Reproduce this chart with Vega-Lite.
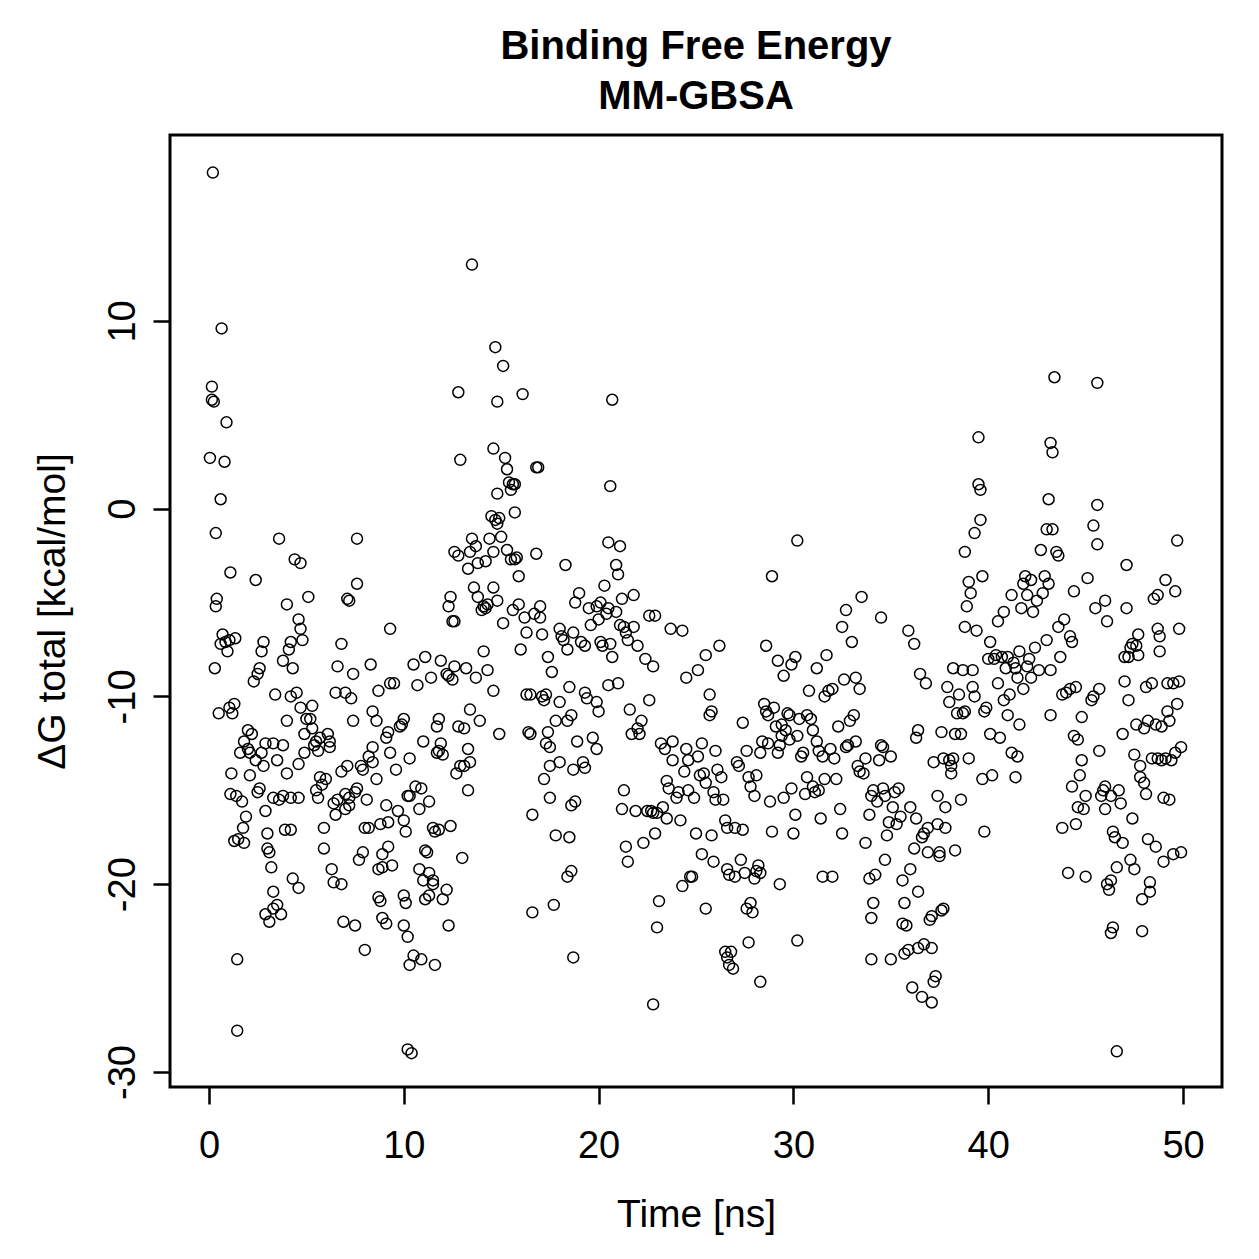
{
"$schema": "https://vega.github.io/schema/vega-lite/v6.json",
"width": 1052,
"height": 952,
"autosize": {"type": "none"},
"padding": {"left": 170, "top": 135, "right": 37, "bottom": 172},
"background": "white",
"title": {"text": ["Binding Free Energy", "MM-GBSA"], "fontSize": 40, "font": "Liberation Sans", "fontWeight": "bold", "color": "black", "anchor": "middle", "offset": 18, "lineHeight": 50},
"config": {
  "view": {"stroke": "black", "strokeWidth": 3},
  "axis": {"domain": false, "grid": false, "ticks": true, "tickColor": "black", "tickWidth": 2.5, "tickSize": 17, "labelFont": "Liberation Sans", "labelFontSize": 38, "labelColor": "black", "titleFont": "Liberation Sans", "titleFontSize": 39, "titleFontWeight": "normal", "titleColor": "black"}
},
"data": {"values": [
{"t":0.2,"g":17.9},{"t":0.05,"g":2.7},{"t":0.15,"g":6.5},{"t":0.15,"g":5.8},{"t":0.25,"g":5.7},{"t":0.65,"g":9.6},{"t":0.9,"g":4.6},{"t":0.8,"g":2.5},{"t":0.6,"g":0.5},{"t":0.35,"g":-1.3},{"t":0.4,"g":-4.8},{"t":0.35,"g":-5.2},{"t":0.3,"g":-8.5},{"t":0.7,"g":-6.7},{"t":0.6,"g":-7.2},{"t":0.85,"g":-7.1},{"t":1.05,"g":-7.0},{"t":0.95,"g":-7.6},{"t":1.1,"g":-3.4},{"t":1.35,"g":-6.9},{"t":0.5,"g":-10.9},{"t":1.05,"g":-10.6},{"t":1.3,"g":-10.4},{"t":1.2,"g":-10.9},{"t":1.15,"g":-14.1},{"t":1.1,"g":-15.2},{"t":1.4,"g":-15.3},{"t":1.3,"g":-17.7},{"t":1.5,"g":-17.6},{"t":1.6,"g":-13.0},{"t":1.8,"g":-12.4},{"t":2.0,"g":-12.8},{"t":1.45,"g":-24.0},{"t":1.45,"g":-27.8},{"t":1.7,"g":-15.6},{"t":1.9,"g":-16.4},{"t":1.75,"g":-17.0},{"t":1.8,"g":-17.8},{"t":2.0,"g":-11.8},{"t":2.2,"g":-12.0},{"t":2.1,"g":-13.0},{"t":2.1,"g":-14.2},
{"t":2.4,"g":-3.8},{"t":2.3,"g":-9.2},{"t":2.5,"g":-8.8},{"t":2.6,"g":-8.5},{"t":2.7,"g":-7.6},{"t":2.8,"g":-7.1},{"t":2.4,"g":-13.4},{"t":2.5,"g":-15.1},{"t":2.6,"g":-14.9},{"t":2.7,"g":-13.0},{"t":2.8,"g":-13.7},{"t":2.9,"g":-12.5},{"t":2.9,"g":-16.1},{"t":3.0,"g":-17.3},{"t":3.1,"g":-18.3},{"t":3.0,"g":-18.1},{"t":2.9,"g":-21.6},{"t":3.1,"g":-22.0},{"t":3.3,"g":-21.3},{"t":3.5,"g":-21.1},{"t":3.7,"g":-21.6},{"t":3.3,"g":-20.4},{"t":3.2,"g":-19.1},{"t":3.3,"g":-12.5},{"t":3.5,"g":-13.4},{"t":3.8,"g":-12.6},{"t":3.3,"g":-15.4},{"t":3.6,"g":-15.5},{"t":3.8,"g":-15.3},{"t":3.9,"g":-17.1},{"t":4.2,"g":-17.1},{"t":3.4,"g":-9.9},{"t":3.6,"g":-1.6},{"t":3.8,"g":-8.1},{"t":4.1,"g":-7.5},{"t":4.2,"g":-7.1},{"t":4.0,"g":-5.1},{"t":4.2,"g":-10.0},{"t":4.0,"g":-11.3},{"t":4.3,"g":-8.5},{"t":4.4,"g":-2.7},{"t":4.7,"g":-2.9},{"t":4.5,"g":-9.8},{"t":4.7,"g":-10.6},{"t":4.9,"g":-12.0},{"t":4.6,"g":-5.9},{"t":4.7,"g":-6.4},{"t":4.8,"g":-7.0},{"t":4.6,"g":-13.6},{"t":4.3,"g":-19.7},{"t":4.6,"g":-20.2},{"t":4.2,"g":-15.4},{"t":4.6,"g":-15.4},{"t":4.9,"g":-13.0},{"t":5.0,"g":-11.2},{"t":4.0,"g":-14.1},
{"t":5.1,"g":-4.7},{"t":5.2,"g":-11.2},{"t":5.3,"g":-11.7},{"t":5.4,"g":-12.6},{"t":5.5,"g":-12.4},{"t":5.6,"g":-12.9},{"t":5.7,"g":-12.2},{"t":5.3,"g":-10.5},{"t":5.7,"g":-14.3},{"t":5.8,"g":-14.7},{"t":5.5,"g":-15.0},{"t":5.6,"g":-15.4},{"t":5.9,"g":-17.0},{"t":5.9,"g":-18.1},{"t":6.0,"g":-14.4},{"t":6.1,"g":-12.0},{"t":6.2,"g":-12.4},{"t":6.2,"g":-12.7},{"t":6.4,"g":-15.7},{"t":6.5,"g":-16.3},{"t":6.6,"g":-15.5},{"t":6.5,"g":-9.8},{"t":6.6,"g":-8.4},{"t":6.8,"g":-7.2},{"t":6.3,"g":-19.2},{"t":6.4,"g":-19.9},{"t":6.8,"g":-20.0},{"t":6.9,"g":-22.0},{"t":6.8,"g":-14.0},{"t":7.1,"g":-13.7},{"t":7.0,"g":-16.0},{"t":7.2,"g":-15.8},{"t":7.0,"g":-15.2},{"t":7.2,"g":-15.4},{"t":7.1,"g":-4.8},{"t":7.2,"g":-4.9},{"t":7.0,"g":-9.8},{"t":7.4,"g":-11.3},{"t":7.6,"g":-1.6},{"t":7.6,"g":-4.0},{"t":7.4,"g":-8.8},{"t":7.3,"g":-10.1},{"t":7.5,"g":-15.1},{"t":7.6,"g":-14.9},{"t":7.8,"g":-13.7},{"t":7.9,"g":-13.9},{"t":7.5,"g":-22.2},{"t":7.7,"g":-18.7},{"t":7.9,"g":-18.3},{"t":8.1,"g":-15.5},{"t":8.0,"g":-17.0},{"t":8.2,"g":-17.0},{"t":8.0,"g":-23.5},{"t":8.2,"g":-13.2},{"t":8.4,"g":-13.5},{"t":8.6,"g":-14.4},{"t":8.4,"g":-12.7},{"t":8.3,"g":-8.3},{"t":8.7,"g":-9.7},{"t":8.4,"g":-10.8},{"t":8.6,"g":-11.3},
{"t":8.7,"g":-19.2},{"t":8.9,"g":-19.1},{"t":8.7,"g":-20.7},{"t":8.8,"g":-20.9},{"t":8.9,"g":-21.8},{"t":9.1,"g":-22.1},{"t":8.9,"g":-18.4},{"t":9.2,"g":-18.0},{"t":9.4,"g":-19.0},{"t":9.1,"g":-15.8},{"t":9.2,"g":-16.7},{"t":8.8,"g":-16.8},{"t":9.1,"g":-12.2},{"t":9.2,"g":-11.9},{"t":9.3,"g":-13.0},{"t":9.3,"g":-9.3},{"t":9.5,"g":-9.3},{"t":9.3,"g":-6.4},{"t":9.6,"g":-13.9},{"t":9.8,"g":-11.6},{"t":10.0,"g":-11.2},{"t":9.9,"g":-11.5},{"t":9.7,"g":-16.1},{"t":10.0,"g":-16.6},{"t":10.2,"g":-15.3},{"t":10.3,"g":-15.3},{"t":10.0,"g":-20.6},{"t":10.1,"g":-21.0},{"t":10.0,"g":-22.2},{"t":10.2,"g":-22.8},{"t":10.3,"g":-24.3},{"t":10.5,"g":-23.8},{"t":10.2,"g":-28.8},{"t":10.4,"g":-29.0},{"t":10.3,"g":-13.3},{"t":10.1,"g":-17.2},{"t":10.5,"g":-8.3},{"t":10.7,"g":-9.4},{"t":10.8,"g":-16.0},{"t":10.6,"g":-14.8},{"t":10.9,"g":-14.9},{"t":10.8,"g":-19.2},{"t":11.0,"g":-19.8},{"t":11.1,"g":-20.8},{"t":11.3,"g":-20.6},{"t":11.5,"g":-20.0},{"t":11.3,"g":-19.4},{"t":11.5,"g":-19.8},{"t":11.1,"g":-18.2},{"t":11.2,"g":-18.3},{"t":10.9,"g":-24.0},{"t":11.6,"g":-24.3},{"t":11.6,"g":-17.2},{"t":11.8,"g":-17.1},{"t":11.3,"g":-15.6},{"t":11.5,"g":-17.0},{"t":11.0,"g":-12.4},{"t":11.8,"g":-12.9},{"t":11.7,"g":-11.6},{"t":11.8,"g":-11.2},{"t":11.7,"g":-13.0},{"t":11.9,"g":-12.5},{"t":12.0,"g":-13.1},{"t":11.9,"g":-8.1},{"t":11.4,"g":-9.0},{"t":11.1,"g":-7.9},{"t":12.0,"g":-20.8},{"t":12.2,"g":-20.3},{"t":12.3,"g":-22.2},{"t":12.4,"g":-16.9},
{"t":12.2,"g":-8.8},{"t":12.3,"g":-8.9},{"t":12.5,"g":-9.1},{"t":12.6,"g":-8.4},{"t":12.3,"g":-5.2},{"t":12.4,"g":-4.7},{"t":12.5,"g":-6.0},{"t":12.6,"g":-6.0},{"t":12.6,"g":-2.3},{"t":12.8,"g":-2.5},{"t":12.8,"g":6.2},{"t":12.9,"g":2.6},{"t":12.8,"g":-11.6},{"t":12.7,"g":-14.1},{"t":12.9,"g":-13.7},{"t":13.1,"g":-13.7},{"t":13.0,"g":-18.6},{"t":13.2,"g":-8.5},{"t":13.1,"g":-11.7},{"t":13.3,"g":-12.8},{"t":13.4,"g":-13.5},{"t":13.3,"g":-15.0},{"t":13.5,"g":13.0},{"t":13.5,"g":-1.6},{"t":13.4,"g":-2.3},{"t":13.3,"g":-3.2},{"t":13.7,"g":-2.0},{"t":13.8,"g":-2.9},{"t":13.6,"g":-4.2},{"t":13.8,"g":-4.7},{"t":14.0,"g":-5.4},{"t":14.1,"g":-5.2},{"t":14.2,"g":-5.3},{"t":14.3,"g":-5.1},{"t":13.4,"g":-10.7},{"t":13.7,"g":-9.0},{"t":13.9,"g":-11.3},{"t":14.1,"g":-7.6},{"t":14.3,"g":-8.6},{"t":14.6,"g":-9.7},{"t":14.4,"g":-1.6},{"t":14.2,"g":-2.8},{"t":14.6,"g":-2.3},{"t":14.5,"g":-0.4},{"t":14.7,"g":-0.6},{"t":14.8,"g":-0.8},{"t":14.9,"g":-0.5},{"t":14.6,"g":3.2},{"t":14.8,"g":0.8},{"t":15.0,"g":-1.5},{"t":14.7,"g":8.6},{"t":14.8,"g":5.7},{"t":15.1,"g":7.6},{"t":14.6,"g":-4.2},{"t":14.8,"g":-4.9},{"t":15.1,"g":-6.1},{"t":14.9,"g":-12.0},{"t":15.2,"g":2.7},{"t":15.3,"g":2.1},{"t":15.4,"g":1.4},{"t":15.5,"g":1.0},{"t":15.6,"g":1.3},{"t":15.7,"g":1.3},{"t":15.7,"g":-0.2},{"t":15.3,"g":-2.2},{"t":15.5,"g":-2.7},{"t":15.7,"g":-2.7},{"t":15.8,"g":-2.6},{"t":15.9,"g":-3.6},{"t":15.6,"g":-5.4},{"t":15.9,"g":-5.1},{"t":16.1,"g":6.1},{"t":16.2,"g":-5.8},{"t":16.0,"g":-7.5},{"t":16.3,"g":-6.6},{"t":16.3,"g":-9.9},{"t":16.5,"g":-9.9},{"t":16.4,"g":-11.9},{"t":16.5,"g":-12.0},{"t":16.6,"g":-16.3},{"t":16.7,"g":-5.6},{"t":16.8,"g":2.2},{"t":16.9,"g":2.2},{"t":16.8,"g":-2.4},{"t":16.6,"g":-21.5},
{"t":17.0,"g":-5.2},{"t":17.0,"g":-5.8},{"t":17.1,"g":-6.7},{"t":17.1,"g":-10.0},{"t":17.2,"g":-10.2},{"t":17.3,"g":-9.9},{"t":17.4,"g":-11.9},{"t":17.3,"g":-12.5},{"t":17.5,"g":-12.7},{"t":17.2,"g":-14.4},{"t":17.5,"g":-13.7},{"t":17.4,"g":-7.9},{"t":17.6,"g":-8.7},{"t":17.5,"g":-15.4},{"t":17.7,"g":-21.1},{"t":17.8,"g":-17.4},{"t":17.8,"g":-11.3},{"t":18.0,"g":-6.4},{"t":18.0,"g":-10.3},{"t":18.0,"g":-13.5},{"t":18.1,"g":-6.8},{"t":18.2,"g":-7.0},{"t":18.3,"g":-3.0},{"t":18.4,"g":-7.5},{"t":18.5,"g":-9.5},{"t":18.5,"g":-17.5},{"t":18.6,"g":-15.8},{"t":18.4,"g":-19.6},{"t":18.6,"g":-19.3},{"t":18.4,"g":-11.3},{"t":18.6,"g":-11.0},{"t":18.7,"g":-6.6},{"t":18.7,"g":-13.9},{"t":18.8,"g":-15.6},{"t":18.9,"g":-12.4},{"t":18.8,"g":-5.0},{"t":18.7,"g":-23.9},{"t":19.0,"g":-4.5},{"t":19.1,"g":-7.1},{"t":19.3,"g":-7.3},{"t":19.2,"g":-13.5},{"t":19.3,"g":-13.8},{"t":19.3,"g":-9.8},{"t":19.4,"g":-10.1},{"t":19.5,"g":-5.3},{"t":19.6,"g":-6.2},{"t":19.7,"g":-12.2},{"t":19.9,"g":-12.8},{"t":19.9,"g":-10.3},{"t":20.0,"g":-10.8},{"t":19.9,"g":-5.2},{"t":20.0,"g":-5.9},{"t":20.1,"g":-5.0},{"t":20.1,"g":-7.1},{"t":20.2,"g":-7.3},{"t":20.3,"g":-4.1},{"t":20.4,"g":-5.6},{"t":20.5,"g":-5.3},{"t":20.5,"g":-1.8},{"t":20.6,"g":1.2},{"t":20.7,"g":5.8},{"t":20.6,"g":-7.2},{"t":20.7,"g":-7.9},{"t":20.5,"g":-9.4},{"t":20.9,"g":-3.0},{"t":21.0,"g":-3.5},{"t":21.1,"g":-2.0},{"t":20.9,"g":-5.5},{"t":21.2,"g":-4.8},{"t":21.1,"g":-6.2},{"t":21.3,"g":-6.3},{"t":21.4,"g":-6.6},{"t":21.5,"g":-7.0},{"t":21.0,"g":-9.3},
{"t":21.2,"g":-16.0},{"t":21.3,"g":-15.0},{"t":21.4,"g":-18.0},{"t":21.5,"g":-18.8},{"t":21.6,"g":-10.7},{"t":21.7,"g":-12.0},{"t":21.8,"g":-4.6},{"t":21.8,"g":-6.3},{"t":22.0,"g":-7.3},{"t":21.9,"g":-16.1},{"t":22.0,"g":-11.7},{"t":22.1,"g":-12.0},{"t":22.2,"g":-11.3},{"t":22.3,"g":-17.8},{"t":22.4,"g":-8.0},{"t":22.5,"g":-16.1},{"t":22.6,"g":-10.2},{"t":22.7,"g":-16.1},{"t":22.6,"g":-5.7},{"t":22.8,"g":-8.4},{"t":22.9,"g":-5.7},{"t":22.8,"g":-16.2},{"t":23.0,"g":-16.2},{"t":22.9,"g":-17.3},{"t":23.0,"g":-22.3},{"t":22.8,"g":-26.4},{"t":23.1,"g":-20.9},{"t":23.2,"g":-12.5},{"t":23.4,"g":-12.8},{"t":23.3,"g":-15.9},{"t":23.5,"g":-16.5},{"t":23.5,"g":-14.5},{"t":23.6,"g":-14.9},{"t":23.7,"g":-6.4},{"t":23.8,"g":-13.4},{"t":23.8,"g":-12.4},{"t":24.0,"g":-15.4},{"t":24.1,"g":-15.1},{"t":24.2,"g":-16.6},{"t":24.3,"g":-6.5},{"t":24.4,"g":-14.0},{"t":24.5,"g":-12.8},{"t":24.6,"g":-13.4},{"t":24.6,"g":-15.0},{"t":24.3,"g":-20.1},{"t":24.7,"g":-19.6},{"t":24.8,"g":-19.6},{"t":24.5,"g":-9.0},{"t":24.9,"g":-15.4},{"t":25.0,"g":-17.3},{"t":25.1,"g":-8.6},{"t":25.1,"g":-13.2},{"t":25.2,"g":-14.2},{"t":25.3,"g":-12.5},{"t":25.4,"g":-14.1},{"t":25.5,"g":-14.6},{"t":25.3,"g":-18.4},{"t":25.5,"g":-21.3},{"t":25.5,"g":-7.8},{"t":25.7,"g":-9.9},{"t":25.7,"g":-11.0},{"t":25.8,"g":-10.8},{"t":25.9,"g":-15.1},{"t":26.0,"g":-15.5},{"t":25.8,"g":-17.4},{"t":25.9,"g":-18.8},
{"t":26.0,"g":-12.9},{"t":26.1,"g":-13.9},{"t":26.2,"g":-7.3},{"t":26.3,"g":-14.3},{"t":26.4,"g":-15.5},{"t":26.5,"g":-16.6},{"t":26.6,"g":-17.0},{"t":26.6,"g":-19.2},{"t":26.7,"g":-19.5},{"t":26.5,"g":-23.6},{"t":26.6,"g":-23.9},{"t":26.7,"g":-24.3},{"t":26.8,"g":-23.6},{"t":26.9,"g":-24.5},{"t":27.0,"g":-19.6},{"t":27.0,"g":-17.0},{"t":27.1,"g":-13.5},{"t":27.2,"g":-13.7},{"t":27.4,"g":-11.4},{"t":27.4,"g":-17.1},{"t":27.3,"g":-18.7},{"t":27.5,"g":-19.4},{"t":27.6,"g":-12.9},{"t":27.7,"g":-14.3},{"t":27.8,"g":-14.8},{"t":27.6,"g":-21.3},{"t":27.7,"g":-23.1},{"t":27.8,"g":-21.0},{"t":27.9,"g":-21.5},{"t":28.0,"g":-19.7},{"t":28.1,"g":-19.3},{"t":28.2,"g":-19.0},{"t":28.3,"g":-19.4},{"t":28.0,"g":-15.3},{"t":28.1,"g":-14.2},{"t":28.3,"g":-13.0},{"t":28.4,"g":-12.4},{"t":28.5,"g":-10.4},{"t":28.3,"g":-25.2},{"t":28.6,"g":-7.3},{"t":28.6,"g":-10.8},{"t":28.7,"g":-11.0},{"t":28.7,"g":-12.5},{"t":28.8,"g":-15.6},{"t":28.9,"g":-17.2},{"t":28.9,"g":-3.6},{"t":29.0,"g":-10.6},{"t":29.1,"g":-11.6},{"t":29.2,"g":-13.0},{"t":29.3,"g":-12.6},{"t":29.2,"g":-8.1},{"t":29.4,"g":-11.5},{"t":29.4,"g":-12.1},{"t":29.5,"g":-8.9},{"t":29.5,"g":-15.4},{"t":29.3,"g":-20.0},{"t":29.6,"g":-11.8},{"t":29.7,"g":-10.9},{"t":29.8,"g":-11.0},{"t":29.8,"g":-12.3},{"t":29.9,"g":-8.3},{"t":29.9,"g":-14.9},{"t":30.0,"g":-17.3},{"t":30.1,"g":-16.3},{"t":30.1,"g":-7.9},{"t":30.2,"g":-12.1},{"t":30.2,"g":-1.7},{"t":30.3,"g":-11.2},{"t":30.4,"g":-13.2},{"t":30.5,"g":-13.0},{"t":30.2,"g":-23.0},{"t":30.6,"g":-15.2},{"t":30.7,"g":-14.3},{"t":30.7,"g":-11.0},{"t":30.8,"g":-9.7},{"t":30.9,"g":-11.2},{"t":31.0,"g":-11.8},{"t":31.0,"g":-14.8},{"t":31.1,"g":-15.1},{"t":31.2,"g":-8.5},{"t":31.2,"g":-12.4},
{"t":31.3,"g":-15.0},{"t":31.3,"g":-12.9},{"t":31.4,"g":-16.5},{"t":31.5,"g":-13.2},{"t":31.5,"g":-19.6},{"t":31.6,"g":-10.0},{"t":31.6,"g":-14.4},{"t":31.7,"g":-7.8},{"t":31.8,"g":-9.7},{"t":31.9,"g":-12.8},{"t":32.0,"g":-9.6},{"t":32.1,"g":-13.3},{"t":32.2,"g":-14.4},{"t":32.0,"g":-19.6},{"t":32.3,"g":-11.6},{"t":32.4,"g":-16.0},{"t":32.5,"g":-17.3},{"t":32.5,"g":-6.3},{"t":32.6,"g":-9.1},{"t":32.7,"g":-12.7},{"t":32.7,"g":-5.4},{"t":32.8,"g":-12.6},{"t":32.9,"g":-11.3},{"t":33.0,"g":-7.1},{"t":33.1,"g":-11.0},{"t":33.2,"g":-12.4},{"t":33.2,"g":-9.0},{"t":33.3,"g":-13.7},{"t":33.4,"g":-14.0},{"t":33.4,"g":-9.6},{"t":33.5,"g":-4.7},{"t":33.6,"g":-14.1},{"t":33.7,"g":-13.3},{"t":33.7,"g":-17.8},{"t":33.9,"g":-16.3},{"t":33.9,"g":-19.7},{"t":34.0,"g":-21.8},{"t":34.1,"g":-21.0},{"t":34.0,"g":-15.3},{"t":34.1,"g":-15.0},{"t":34.0,"g":-24.0},{"t":34.2,"g":-19.5},{"t":34.3,"g":-15.6},{"t":34.4,"g":-13.4},{"t":34.5,"g":-12.6},{"t":34.5,"g":-5.8},{"t":34.6,"g":-12.7},{"t":34.6,"g":-14.9},{"t":34.7,"g":-15.3},{"t":34.8,"g":-17.4},{"t":34.9,"g":-16.7},{"t":34.7,"g":-18.7},{"t":35.0,"g":-13.2},{"t":35.1,"g":-15.9},{"t":35.2,"g":-15.1},{"t":35.0,"g":-24.0},{"t":35.3,"g":-16.8},{"t":35.4,"g":-14.9},{"t":35.5,"g":-16.4},{"t":35.6,"g":-19.8},{"t":35.7,"g":-21.0},{"t":35.7,"g":-23.7},{"t":35.9,"g":-23.5},{"t":35.8,"g":-22.2},{"t":35.6,"g":-22.1},{"t":36.0,"g":-15.9},{"t":36.0,"g":-19.2},{"t":36.1,"g":-25.5},{"t":35.9,"g":-6.5},{"t":36.2,"g":-18.1},{"t":36.2,"g":-7.2},{"t":36.3,"g":-16.5},{"t":36.5,"g":-8.8},{"t":36.4,"g":-11.8},{"t":36.3,"g":-12.2},{"t":36.4,"g":-20.4},{"t":36.4,"g":-23.4},{"t":36.6,"g":-17.5},{"t":36.6,"g":-26.0},{"t":36.7,"g":-23.2},
{"t":36.7,"g":-17.3},{"t":36.8,"g":-9.3},{"t":36.9,"g":-17.0},{"t":36.9,"g":-18.3},{"t":37.0,"g":-21.9},{"t":37.1,"g":-21.7},{"t":37.1,"g":-23.4},{"t":37.1,"g":-26.3},{"t":37.2,"g":-25.2},{"t":37.3,"g":-24.9},{"t":37.2,"g":-13.5},{"t":37.4,"g":-15.3},{"t":37.4,"g":-16.8},{"t":37.5,"g":-18.3},{"t":37.5,"g":-18.5},{"t":37.6,"g":-21.4},{"t":37.7,"g":-21.3},{"t":37.6,"g":-11.9},{"t":37.7,"g":-13.3},{"t":37.8,"g":-17.0},{"t":37.8,"g":-15.9},{"t":37.9,"g":-9.5},{"t":38.0,"g":-10.3},{"t":38.0,"g":-13.4},{"t":38.1,"g":-13.7},{"t":38.1,"g":-14.1},{"t":38.2,"g":-13.3},{"t":38.2,"g":-8.5},{"t":38.3,"g":-12.0},{"t":38.3,"g":-18.2},{"t":38.4,"g":-10.9},{"t":38.5,"g":-9.9},{"t":38.6,"g":-12.0},{"t":38.6,"g":-15.5},{"t":38.7,"g":-10.9},{"t":38.8,"g":-10.8},{"t":38.7,"g":-8.6},{"t":38.8,"g":-6.3},{"t":38.8,"g":-2.3},{"t":38.9,"g":-5.2},{"t":39.0,"g":-3.9},{"t":39.1,"g":-4.5},{"t":39.0,"g":-13.3},{"t":39.2,"g":-9.5},{"t":39.3,"g":-10.0},{"t":39.2,"g":-8.6},{"t":39.4,"g":-6.5},{"t":39.3,"g":-1.3},{"t":39.5,"g":1.3},{"t":39.6,"g":1.0},{"t":39.5,"g":3.8},{"t":39.6,"g":-0.6},{"t":39.7,"g":-3.6},{"t":39.7,"g":-14.4},{"t":39.8,"g":-10.8},{"t":39.9,"g":-10.6},{"t":39.8,"g":-17.2},{"t":40.0,"g":-8.0},{"t":40.1,"g":-7.1},{"t":40.1,"g":-12.0},{"t":40.2,"g":-14.2},{"t":40.3,"g":-8.0},{"t":40.4,"g":-7.8},{"t":40.5,"g":-6.0},{"t":40.5,"g":-9.3},{"t":40.6,"g":-12.2},{"t":40.7,"g":-7.9},{"t":40.8,"g":-5.5},{"t":40.8,"g":-10.2},{"t":40.9,"g":-8.5},
{"t":41.0,"g":-7.9},{"t":41.0,"g":-11.0},{"t":41.1,"g":-9.9},{"t":41.2,"g":-13.0},{"t":41.2,"g":-4.6},{"t":41.3,"g":-8.2},{"t":41.4,"g":-8.5},{"t":41.4,"g":-14.3},{"t":41.5,"g":-9.0},{"t":41.5,"g":-13.2},{"t":41.6,"g":-7.6},{"t":41.6,"g":-11.5},{"t":41.7,"g":-5.3},{"t":41.8,"g":-4.0},{"t":41.8,"g":-9.6},{"t":41.9,"g":-3.6},{"t":42.0,"g":-8.4},{"t":42.0,"g":-4.6},{"t":42.1,"g":-8.0},{"t":42.2,"g":-3.8},{"t":42.2,"g":-9.0},{"t":42.3,"g":-5.5},{"t":42.4,"g":-7.4},{"t":42.5,"g":-4.9},{"t":42.6,"g":-8.6},{"t":42.7,"g":-2.2},{"t":42.8,"g":-4.5},{"t":42.9,"g":-3.6},{"t":43.0,"g":-7.0},{"t":43.0,"g":-1.1},{"t":43.1,"g":0.5},{"t":43.1,"g":-4.0},{"t":43.2,"g":-8.6},{"t":43.2,"g":3.5},{"t":43.3,"g":3.0},{"t":43.3,"g":-1.1},{"t":43.2,"g":-11.0},{"t":43.4,"g":7.0},{"t":43.5,"g":-2.3},{"t":43.6,"g":-2.5},{"t":43.6,"g":-6.3},{"t":43.7,"g":-7.9},{"t":43.8,"g":-9.9},{"t":43.8,"g":-17.0},{"t":43.9,"g":-5.9},{"t":44.0,"g":-9.8},{"t":44.1,"g":-19.4},{"t":44.2,"g":-9.6},{"t":44.2,"g":-6.8},{"t":44.3,"g":-7.1},{"t":44.3,"g":-14.8},{"t":44.4,"g":-12.1},{"t":44.4,"g":-4.4},{"t":44.5,"g":-9.5},{"t":44.5,"g":-16.8},{"t":44.6,"g":-12.3},{"t":44.6,"g":-15.9},{"t":44.7,"g":-14.2},{"t":44.8,"g":-13.4},{"t":44.8,"g":-11.1},{"t":44.9,"g":-16.0},{"t":45.0,"g":-19.6},{"t":45.0,"g":-15.3},{"t":45.1,"g":-3.7},{"t":45.3,"g":-10.2},{"t":45.4,"g":-10.0},{"t":45.4,"g":-0.9},{"t":45.5,"g":-5.3},{"t":45.6,"g":6.7},{"t":45.6,"g":-1.9},{"t":45.6,"g":0.2},{"t":45.7,"g":-9.6},{"t":45.7,"g":-12.9},{"t":45.8,"g":-15.3},{"t":45.9,"g":-15.0},
{"t":46.0,"g":-14.8},{"t":46.0,"g":-16.0},{"t":46.1,"g":-20.0},{"t":46.2,"g":-20.3},{"t":46.3,"g":-19.8},{"t":46.0,"g":-4.9},{"t":46.1,"g":-6.0},{"t":46.3,"g":-15.3},{"t":46.4,"g":-17.2},{"t":46.4,"g":-22.3},{"t":46.3,"g":-22.6},{"t":46.5,"g":-17.5},{"t":46.6,"g":-19.1},{"t":46.6,"g":-28.9},{"t":46.7,"g":-15.0},{"t":46.8,"g":-15.7},{"t":46.9,"g":-17.8},{"t":46.9,"g":-12.0},{"t":47.0,"g":-9.2},{"t":47.0,"g":-7.9},{"t":47.1,"g":-3.0},{"t":47.1,"g":-5.3},{"t":47.2,"g":-7.9},{"t":47.2,"g":-10.2},{"t":47.3,"g":-7.4},{"t":47.3,"g":-18.7},{"t":47.4,"g":-16.5},{"t":47.4,"g":-7.2},{"t":47.5,"g":-13.1},{"t":47.5,"g":-19.2},{"t":47.6,"g":-7.3},{"t":47.6,"g":-11.5},{"t":47.7,"g":-7.8},{"t":47.7,"g":-6.7},{"t":47.8,"g":-13.7},{"t":47.8,"g":-14.3},{"t":47.9,"g":-22.5},{"t":47.9,"g":-20.8},{"t":48.0,"g":-14.6},{"t":48.0,"g":-11.7},{"t":48.1,"g":-15.2},{"t":48.1,"g":-9.5},{"t":48.2,"g":-17.6},{"t":48.2,"g":-11.3},{"t":48.3,"g":-20.4},{"t":48.3,"g":-19.9},{"t":48.4,"g":-13.3},{"t":48.4,"g":-9.3},{"t":48.5,"g":-4.8},{"t":48.6,"g":-11.5},{"t":48.6,"g":-18.0},{"t":48.7,"g":-13.3},{"t":48.7,"g":-4.6},{"t":48.7,"g":-6.4},{"t":48.8,"g":-6.8},{"t":48.8,"g":-7.6},{"t":48.9,"g":-11.6},{"t":48.9,"g":-13.4},{"t":49.0,"g":-15.4},{"t":49.0,"g":-18.8},{"t":49.1,"g":-13.3},{"t":49.1,"g":-3.8},{"t":49.2,"g":-9.3},{"t":49.2,"g":-10.8},{"t":49.3,"g":-11.3},{"t":49.3,"g":-15.5},{"t":49.4,"g":-13.4},{"t":49.5,"g":-9.3},{"t":49.5,"g":-18.4},{"t":49.6,"g":-13.0},{"t":49.6,"g":-4.4},{"t":49.7,"g":-1.7},{"t":49.7,"g":-10.4},{"t":49.8,"g":-9.2},{"t":49.8,"g":-6.4},{"t":49.9,"g":-18.3},{"t":49.9,"g":-12.7}
]},
"mark": {"type": "point", "shape": "circle", "filled": false, "stroke": "black", "strokeWidth": 1.5, "size": 120, "opacity": 1},
"encoding": {
  "x": {"field": "t", "type": "quantitative", "scale": {"domain": [-2, 52], "nice": false, "zero": false}, "axis": {"values": [0, 10, 20, 30, 40, 50], "title": "Time [ns]", "labelPadding": 23, "titlePadding": 30}},
  "y": {"field": "g", "type": "quantitative", "scale": {"domain": [-30.8, 19.9], "nice": false, "zero": false}, "axis": {"values": [-30, -20, -10, 0, 10], "labelExpr": "datum.value + ''", "title": "ΔG total [kcal/mol]", "labelAngle": -90, "labelAlign": "center", "labelBaseline": "bottom", "labelPadding": 11, "titlePadding": 32}}
}
}
